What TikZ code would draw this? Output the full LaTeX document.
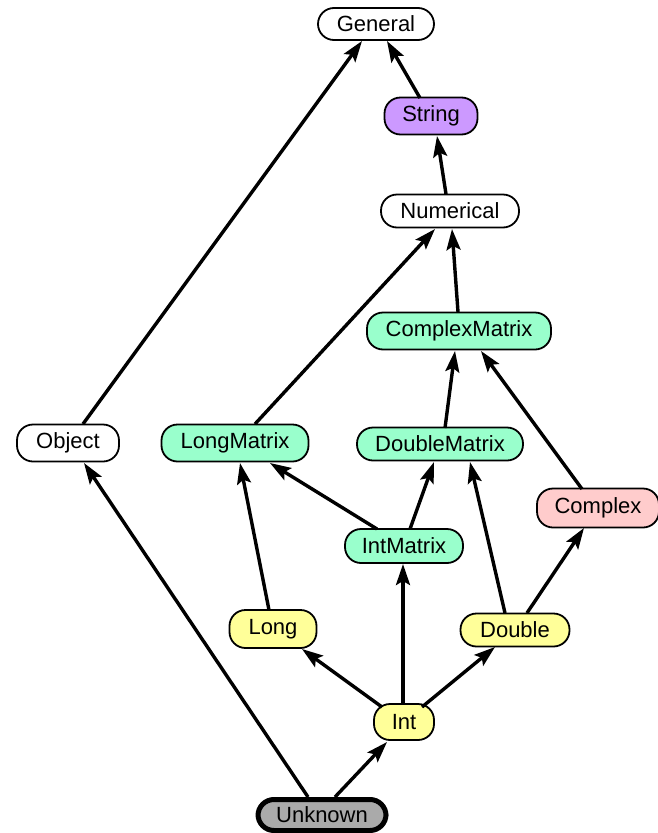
\documentclass[tikz,border=0pt]{standalone}
\usepackage{fontspec}
\setmainfont{Liberation Sans}
\usetikzlibrary{calc,arrows.meta}

\definecolor{mint}{HTML}{99FFCC}
\definecolor{lemon}{HTML}{FFFF99}
\definecolor{lilac}{HTML}{CC99FF}
\definecolor{blush}{HTML}{FFCCCC}
\definecolor{ash}{HTML}{AAAAAA}

\tikzset{
  typebox/.style n args={2}{draw, line width=1.8pt, rectangle, rounded corners=16pt,
    inner sep=0pt, minimum width=#1, minimum height=#2,
    font=\fontsize{22}{26}\selectfont},
  dep/.style={line width=3.4pt, -{Stealth[length=21pt,width=14pt,inset=4pt]}},
}

\begin{document}
\begin{tikzpicture}[x=1pt, y=-1pt]
\useasboundingbox (0,0) rectangle (658,833);

% type nodes
\node[typebox={116pt}{32pt}, fill=white]  (General)       at (376,24)  {General};
\node[typebox={93pt}{37pt},  fill=lilac]  (String)        at (431,116) {String};
\node[typebox={138pt}{33pt}, fill=white]  (Numerical)     at (450,211) {Numerical};
\node[typebox={184pt}{37pt}, fill=mint]   (ComplexMatrix) at (459,331) {ComplexMatrix};
\node[typebox={102pt}{37pt}, fill=white]  (Object)        at (68,443)  {Object};
\node[typebox={147pt}{37pt}, fill=mint]   (LongMatrix)    at (235,443) {LongMatrix};
\node[typebox={166pt}{33pt}, fill=mint]   (DoubleMatrix)  at (440,444) {DoubleMatrix};
\node[typebox={122pt}{39pt}, fill=blush]  (Complex)       at (598,508) {Complex};
\node[typebox={118pt}{34pt}, fill=mint]   (IntMatrix)     at (404,546) {IntMatrix};
\node[typebox={87pt}{38pt},  fill=lemon]  (Long)          at (273,629) {Long};
\node[typebox={109pt}{33pt}, fill=lemon]  (Double)        at (515,630) {Double};
\node[typebox={60pt}{36pt},  fill=lemon]  (Int)           at (404,722) {Int};
\node[typebox={128pt}{31pt}, fill=ash, line width=5pt] (Unknown) at (322,815) {Unknown};

% dependency edges
\draw[dep] ($(Object)+(15,-19)$)        -- ($(General)+(-14,17)$);
\draw[dep] ($(String)+(-11,-18)$)       -- ($(General)+(11,17)$);
\draw[dep] ($(Numerical)+(-4,-17)$)     -- ($(String)+(6,20)$);
\draw[dep] ($(ComplexMatrix)+(-1,-19)$) -- ($(Numerical)+(2,18)$);
\draw[dep] ($(LongMatrix)+(20,-19)$)    -- ($(Numerical)+(-15,18)$);
\draw[dep] ($(DoubleMatrix)+(5,-16)$)   -- ($(ComplexMatrix)+(-4,20)$);
\draw[dep] ($(Complex)+(-16,-19)$)      -- ($(ComplexMatrix)+(22,20)$);
\draw[dep] ($(Long)+(-4,-19)$)          -- ($(LongMatrix)+(5,20)$);
\draw[dep] ($(IntMatrix)+(-27,-17)$)    -- ($(LongMatrix)+(35,20)$);
\draw[dep] ($(IntMatrix)+(6,-17)$)      -- ($(DoubleMatrix)+(-6,18)$);
\draw[dep] ($(Double)+(-10,-17)$)       -- ($(DoubleMatrix)+(30,18)$);
\draw[dep] ($(Double)+(12,-17)$)        -- ($(Complex)+(-14,20)$);
\draw[dep] ($(Int)+(-22,-15)$)          -- ($(Long)+(29,20)$);
\draw[dep] ($(Int)+(-1,-18)$)           -- ($(IntMatrix)+(-1,18)$);
\draw[dep] ($(Int)+(18,-15)$)           -- ($(Double)+(-20,17)$);
\draw[dep] ($(Unknown)+(-14,-18)$)      -- ($(Object)+(16,20)$);
\draw[dep] ($(Unknown)+(13,-18)$)       -- ($(Int)+(-17,20)$);
\end{tikzpicture}
\end{document}
